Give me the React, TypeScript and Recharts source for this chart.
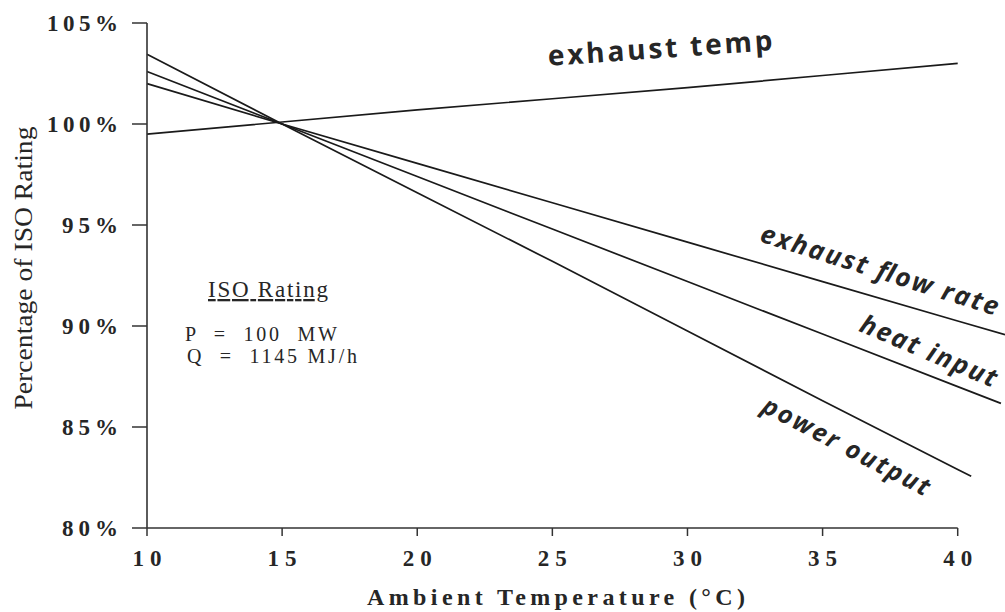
import React from 'react';
import { LineChart, Line, XAxis, YAxis, ReferenceLine, Customized } from 'recharts';

// ---- data ----
const xTicks = [10, 15, 20, 25, 30, 35, 40];
const yTicks = [80, 85, 90, 95, 100, 105];

const exhaustTempX = [10, 15, 20, 25, 30, 35, 40];
const exhaustTempY = [99.5, 100.1, 100.7, 101.25, 101.8, 102.4, 103.0];

const exhaustFlowX = [10, 15, 20, 25, 30, 35, 40, 41.75];
const exhaustFlowY = [102.0, 100, 98.05, 96.1, 94.15, 92.2, 90.25, 89.57];

const heatInputX = [10, 15, 20, 25, 30, 35, 40, 41.6];
const heatInputY = [102.6, 100, 97.4, 94.8, 92.2, 89.6, 87.0, 86.17];

const powerOutputX = [10, 15, 20, 25, 30, 35, 40, 40.5];
const powerOutputY = [103.45, 100, 96.6, 93.2, 89.75, 86.3, 82.9, 82.56];

const toPoints = (xs: number[], ys: number[]) => xs.map((t, i) => ({ t, v: ys[i] }));

const SERIF = '"Liberation Serif", "DejaVu Serif", serif';
const SANS = '"Open Sans", "DejaVu Sans", sans-serif';
const INK = '#262626';

const YTick = (props: any) => {
  const { x, y, payload } = props;
  const label = `${payload.value}%`;
  return (
    <text
      x={x}
      y={y}
      dy={8}
      textAnchor="end"
      fontFamily={SERIF}
      fontWeight="bold"
      fontSize={23}
      fill={INK}
      textLength={label.length === 4 ? 71 : 56}
      lengthAdjust="spacing"
    >
      {label}
    </text>
  );
};

const XTick = (props: any) => {
  const { x, y, payload } = props;
  return (
    <text
      x={x}
      y={y + 30}
      textAnchor="middle"
      fontFamily={SERIF}
      fontWeight="bold"
      fontSize={23}
      fill={INK}
      textLength={29}
      lengthAdjust="spacing"
    >
      {String(payload.value)}
    </text>
  );
};

const Annotations = () => (
  <g>
    {/* axis titles */}
    <text
      x={556}
      y={605}
      textAnchor="middle"
      fontFamily={SERIF}
      fontWeight="bold"
      fontSize={24}
      fill={INK}
      textLength={378}
      lengthAdjust="spacing"
    >
      Ambient Temperature (°C)
    </text>
    <text
      transform="translate(32 268) rotate(-90)"
      textAnchor="middle"
      fontFamily={SERIF}
      fontSize={26}
      fill={INK}
      textLength={283}
      lengthAdjust="spacingAndGlyphs"
    >
      Percentage of ISO Rating
    </text>

    {/* series labels */}
    <text
      transform="translate(660 47) rotate(-4)"
      textAnchor="middle"
      dominantBaseline="central"
      fontFamily={SANS}
      fontWeight="bold"
      fontSize={28}
      fill={INK}
      textLength={225}
      lengthAdjust="spacing"
    >
      exhaust temp
    </text>
    <text
      transform="translate(880 269) rotate(17.5)"
      textAnchor="middle"
      dominantBaseline="central"
      fontFamily={SANS}
      fontWeight="bold"
      fontStyle="italic"
      fontSize={26}
      fill={INK}
      textLength={248}
      lengthAdjust="spacing"
    >
      exhaust flow rate
    </text>
    <text
      transform="translate(929 350) rotate(23)"
      textAnchor="middle"
      dominantBaseline="central"
      fontFamily={SANS}
      fontWeight="bold"
      fontStyle="italic"
      fontSize={26}
      fill={INK}
      textLength={146}
      lengthAdjust="spacing"
    >
      heat input
    </text>
    <text
      transform="translate(847 445) rotate(27.5)"
      textAnchor="middle"
      dominantBaseline="central"
      fontFamily={SANS}
      fontWeight="bold"
      fontStyle="italic"
      fontSize={25}
      fill={INK}
      textLength={185}
      lengthAdjust="spacing"
    >
      power output
    </text>

    {/* ISO rating box */}
    <text
      x={268}
      y={297}
      textAnchor="middle"
      fontFamily={SERIF}
      fontSize={23}
      fill={INK}
      textDecoration="underline"
      textLength={120}
      lengthAdjust="spacing"
    >
      ISO Rating
    </text>
    <text
      x={185}
      y={341}
      fontFamily={SERIF}
      fontSize={20}
      fill={INK}
      style={{ whiteSpace: 'pre' }}
      textLength={152}
      lengthAdjust="spacing"
    >
      {'P  =  100  MW'}
    </text>
    <text
      x={187}
      y={363}
      fontFamily={SERIF}
      fontSize={20}
      fill={INK}
      style={{ whiteSpace: 'pre' }}
      textLength={170}
      lengthAdjust="spacing"
    >
      {'Q  =  1145 MJ/h'}
    </text>
  </g>
);

const lineProps = {
  type: 'linear' as const,
  dataKey: 'v',
  stroke: '#1a1a1a',
  strokeWidth: 1.7,
  dot: false,
  activeDot: false,
  isAnimationActive: false,
};

export default function App() {
  return (
    <div style={{ position: 'absolute', left: 0, top: 0, width: 1005, height: 612, background: '#fff' }}>
      <LineChart width={1005} height={612} margin={{ top: 23, right: 0, left: 0, bottom: 0 }}>
        <XAxis
          type="number"
          dataKey="t"
          domain={[10, 41.75]}
          ticks={xTicks}
          axisLine={false}
          tickLine={{ stroke: '#333', strokeWidth: 1.5 }}
          tickSize={8}
          tickMargin={0}
          tick={<XTick />}
          height={84}
        />
        <YAxis
          type="number"
          domain={[80, 105]}
          ticks={yTicks}
          width={147}
          axisLine={{ stroke: '#333', strokeWidth: 1.6 }}
          tickLine={{ stroke: '#333', strokeWidth: 1.5 }}
          tickSize={15}
          tickMargin={14}
          tick={<YTick />}
        />
        <ReferenceLine
          segment={[{ x: 10, y: 80 }, { x: 40, y: 80 }]}
          stroke="#333"
          strokeWidth={1.6}
          ifOverflow="visible"
        />
        <Line {...lineProps} data={toPoints(exhaustTempX, exhaustTempY)} name="exhaust temp" />
        <Line {...lineProps} data={toPoints(exhaustFlowX, exhaustFlowY)} name="exhaust flow rate" />
        <Line {...lineProps} data={toPoints(heatInputX, heatInputY)} name="heat input" />
        <Line {...lineProps} data={toPoints(powerOutputX, powerOutputY)} name="power output" />
        <Customized component={Annotations} />
      </LineChart>
    </div>
  );
}
